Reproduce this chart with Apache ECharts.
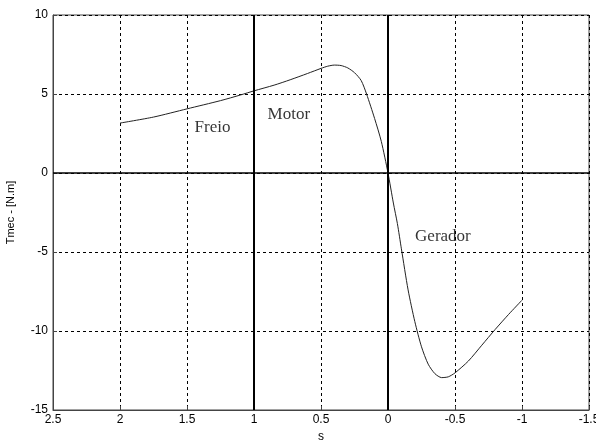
<!DOCTYPE html>
<html>
<head>
<meta charset="utf-8">
<script src="https://cdn.jsdelivr.net/npm/echarts@6/dist/echarts.min.js"></script>
<style>html,body{margin:0;padding:0;background:#fff}#c{width:596px;height:443px}</style>
</head>
<body>
<div id="c"></div>
<script>
// slip values (s) and mechanical torque (Tmec, N.m)
var slip = [2, 1.75, 1.5, 1.25, 1.1, 1, 0.85, 0.73, 0.6, 0.5, 0.45, 0.4, 0.35, 0.3, 0.25, 0.2, 0.16, 0.1, 0.05, 0,
            -0.04, -0.07, -0.1, -0.15, -0.2, -0.25, -0.3, -0.35, -0.4, -0.45, -0.5, -0.6, -0.7, -0.8, -0.9, -1];
var torque = [3.16, 3.54, 4.06, 4.58, 4.94, 5.2, 5.56, 5.9, 6.3, 6.62, 6.76, 6.83, 6.8, 6.65, 6.35, 5.85, 5.0, 3.45, 2.0, 0,
              -1.9, -3.2, -4.8, -7.4, -9.4, -11.0, -12.1, -12.7, -12.95, -12.9, -12.65, -11.9, -10.9, -9.9, -8.95, -8.05];
// region annotations
var regionNames = ['Freio', 'Motor', 'Gerador'];
var regionS = [1.31, 0.74, -0.41];
var regionT = [2.87, 3.69, -4.03];
// reference lines
var refS = [1, 0];
var refT = [0];

var curve = slip.map(function (s, i) { return [s, torque[i]]; });
var notes = regionNames.map(function (n, i) { return { name: n, value: [regionS[i], regionT[i]] }; });
var refLines = refS.map(function (s) { return { xAxis: s }; }).concat(refT.map(function (t) { return { yAxis: t, lineStyle: { width: 1.5, color: '#000', type: 'solid' } }; }));

var chart = echarts.init(document.getElementById('c'), null, { renderer: 'canvas' });
var gridLine = { show: true, lineStyle: { color: '#000', width: 1, type: [3, 3] } };
chart.setOption({
  animation: false,
  backgroundColor: '#fff',
  grid: { left: 53, right: 7, top: 15, bottom: 33, outerBoundsMode: 'none', containLabel: false,
          show: true, borderColor: '#444', borderWidth: 1, backgroundColor: 'transparent' },
  xAxis: {
    type: 'value', min: -1.5, max: 2.5, interval: 0.5, inverse: true,
    name: 's', nameLocation: 'middle', nameGap: 18,
    nameTextStyle: { fontFamily: 'Liberation Sans', fontSize: 12, color: '#000' },
    axisLine: { show: true, onZero: false, lineStyle: { color: '#444' } },
    axisTick: { show: true, inside: true, length: 4, lineStyle: { color: '#444' } },
    axisLabel: { fontFamily: 'Liberation Sans', fontSize: 12, color: '#000', margin: 4 },
    splitLine: gridLine
  },
  yAxis: {
    type: 'value', min: -15, max: 10, interval: 5,
    name: 'Tmec - [N.m]', nameLocation: 'middle', nameGap: 37, nameRotate: 90,
    nameTextStyle: { fontFamily: 'Liberation Sans', fontSize: 11, color: '#000' },
    axisLine: { show: true, onZero: false, lineStyle: { color: '#444' } },
    axisTick: { show: true, inside: true, length: 4, lineStyle: { color: '#444' } },
    axisLabel: { fontFamily: 'Liberation Sans', fontSize: 12, color: '#000', margin: 5 },
    splitLine: gridLine
  },
  series: [
    {
      type: 'line', data: curve, smooth: 0.25, showSymbol: false, symbol: 'none',
      lineStyle: { color: '#222', width: 1 },
      markLine: {
        silent: true, symbol: 'none', label: { show: false },
        lineStyle: { color: '#000', type: 'solid', width: 2 },
        data: refLines
      },
      z: 3
    },
    {
      type: 'scatter', data: notes, symbolSize: 0, silent: true,
      label: {
        show: true, position: 'inside', formatter: '{b}',
        fontFamily: 'Liberation Serif', fontSize: 17, color: '#000'
      }
    }
  ]
});
</script>
</body>
</html>
